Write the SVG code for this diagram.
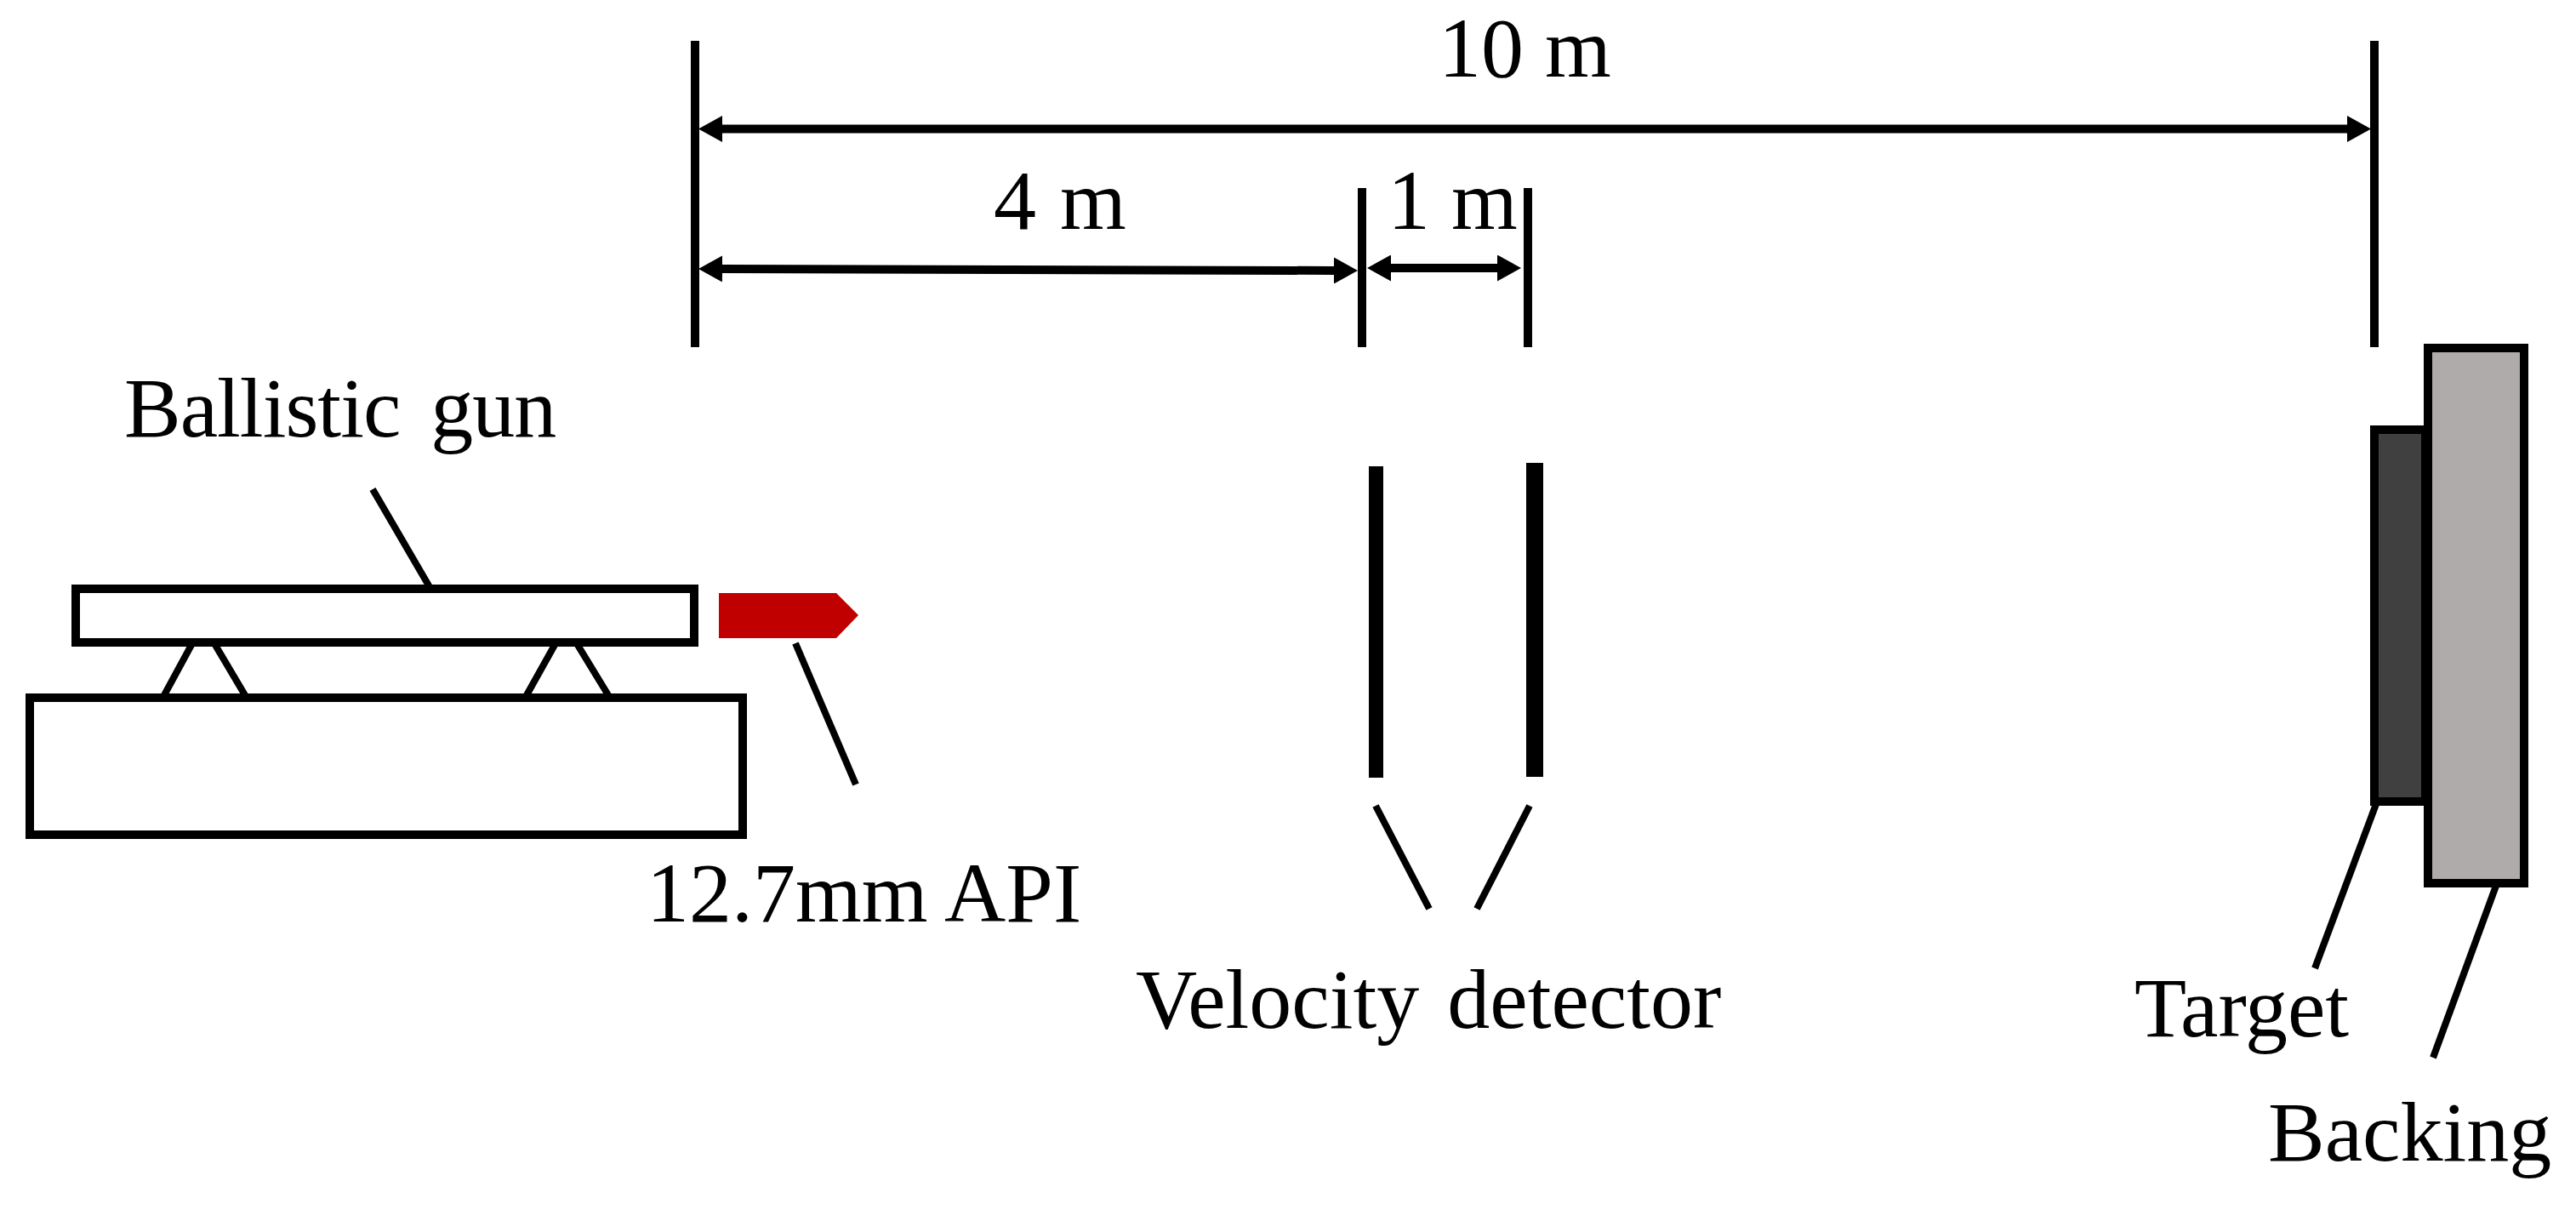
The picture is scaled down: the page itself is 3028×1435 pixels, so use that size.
<svg xmlns="http://www.w3.org/2000/svg" width="3028" height="1435" viewBox="0 0 3028 1435">
<style>
text{font-family:"Liberation Serif","Times New Roman",serif;font-size:100px;fill:#000}
.box{stroke:#000;stroke-width:10;fill:#fff}
.tick{stroke:#000;stroke-width:10;fill:none}
.lead{stroke:#000;stroke-width:8;fill:none}
.dim{stroke:#000;stroke-width:10;fill:none;marker-start:url(#head);marker-end:url(#head)}
</style>
<defs>
<marker id="head" markerUnits="userSpaceOnUse" markerWidth="28" markerHeight="31" viewBox="0 0 28 31" refX="2" refY="15.5" orient="auto-start-reverse">
<path d="M0 0L28 15.5L0 31Z" fill="#000"/>
</marker>
</defs>
<rect width="3028" height="1435" fill="#fff"/>
<g id="gun">
<rect class="box" x="89" y="692" width="727" height="63"/>
<rect class="box" x="35" y="820" width="838" height="161"/>
<path class="lead" d="M225 758L193 817M253 758L288 817M652 758L619 817M679 758L715 817"/>
<text x="146" y="513" word-spacing="12" letter-spacing="-1">Ballistic gun</text>
</g>
<g id="bullet">
<polygon points="845,697 983,697 1009,723 983,750 845,750" fill="#c00000"/>
<text x="760" y="1083">12.7mm API</text>
</g>
<g id="detector">
<rect x="1609" y="548" width="17" height="366" fill="#000"/>
<rect x="1794" y="544" width="20" height="369" fill="#000"/>
<text x="1335" y="1208" word-spacing="8">Velocity detector</text>
</g>
<g id="target">
<rect x="2791" y="505" width="60" height="437" fill="#404040" stroke="#000" stroke-width="10"/>
<text x="2509" y="1218">Target</text>
</g>
<g id="backing">
<rect x="2854" y="409" width="113" height="629" fill="#aeabaa" stroke="#000" stroke-width="10"/>
<text x="2666" y="1364">Backing</text>
</g>
<g id="dimensions">
<path class="tick" d="M817 48V408M1601 221V408M1796 221V408M2791 48V408"/>
<text x="1691" y="90">10 m</text>
<text x="1168" y="269" word-spacing="3">4 m</text>
<text x="1631" y="269">1 m</text>
</g>
<g id="connectors">
<line class="dim" x1="847" y1="151.5" x2="2761" y2="151.5"/>
<line class="dim" x1="847" y1="316" x2="1570" y2="318"/>
<line class="dim" x1="1633" y1="315" x2="1762" y2="315"/>
<line class="lead" x1="438" y1="575" x2="505" y2="690"/>
<line class="lead" x1="935" y1="756" x2="1006" y2="922"/>
<line class="lead" x1="1617" y1="947" x2="1680" y2="1068"/>
<line class="lead" x1="1798" y1="947" x2="1736" y2="1068"/>
<line class="lead" x1="2793" y1="945" x2="2721" y2="1138"/>
<line class="lead" x1="2934" y1="1041" x2="2860" y2="1243"/>
</g>
</svg>
